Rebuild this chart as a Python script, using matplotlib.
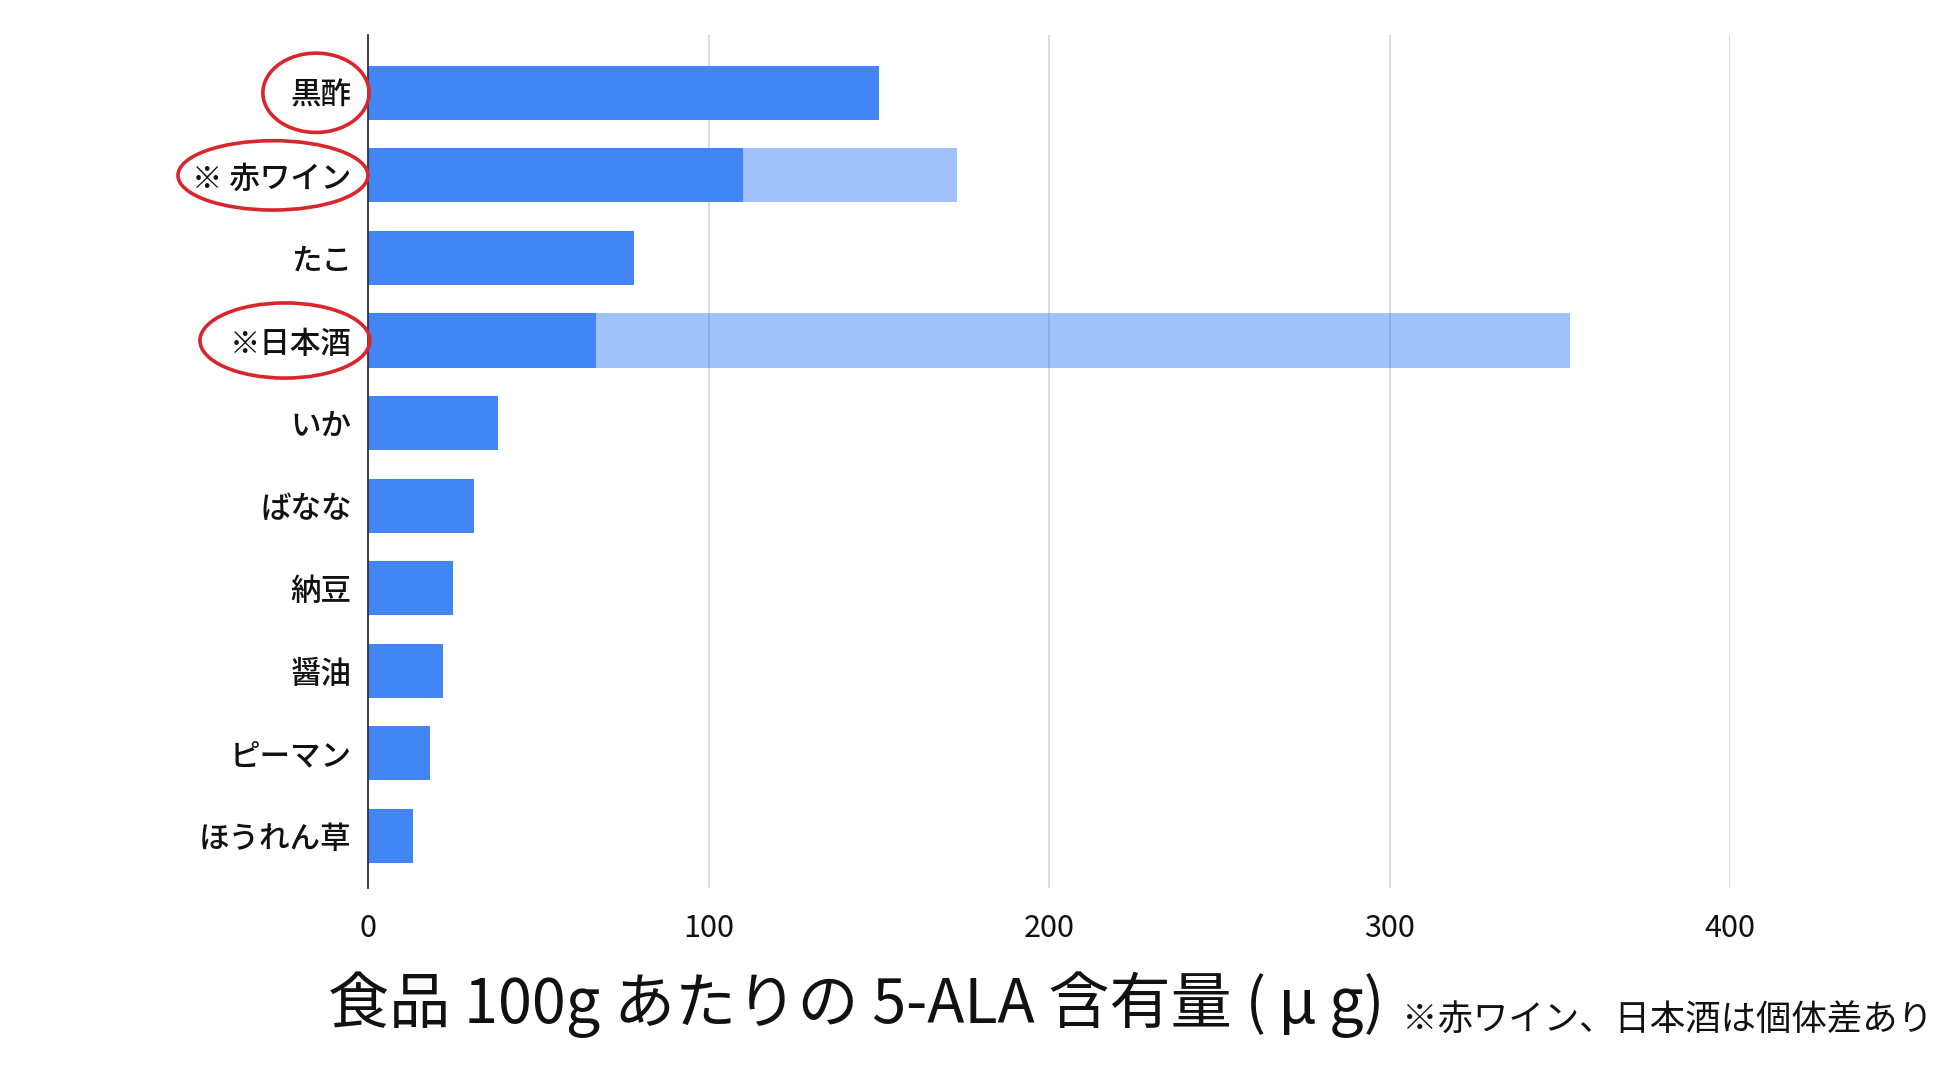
import matplotlib
matplotlib.use("Agg")
import matplotlib.pyplot as plt
import matplotlib.transforms as mtransforms
from matplotlib.patches import Ellipse
import numpy as np

plt.rcParams['font.family'] = ['Noto Sans CJK JP', 'DejaVu Sans']

# data (µg per 100 g)
foods = ["黒酢", "※ 赤ワイン", "たこ", "※日本酒", "いか", "ばなな", "納豆", "醤油", "ピーマン", "ほうれん草"]
base_values = [150, 110, 78, 67, 38, 31, 25, 22, 18, 13]
upper_values = [150, 173, 78, 353, 38, 31, 25, 22, 18, 13]   # upper end of the range (wine, sake)
x_ticks = [0, 100, 200, 300, 400]
circled = ["黒酢", "※ 赤ワイン", "※日本酒"]

title = "食品 100g あたりの 5-ALA 含有量 (\u2009μ\u2009g)"
note = "※赤ワイン、日本酒は個体差あり"

blue = "#4285F4"

fig = plt.figure(figsize=(19.6, 10.8), dpi=100)
ax = fig.add_axes([0.1879, 0.1778, 0.6948, 0.7898])

y_pos = np.arange(len(foods))
bar_h = 0.655

# light range bars (semi transparent) then the solid base value on top
ax.barh(y_pos, upper_values, height=bar_h, color=blue, alpha=0.5, zorder=2, linewidth=0)
ax.barh(y_pos, base_values, height=bar_h, color=blue, zorder=3, linewidth=0)

ax.set_xlim(0, 400)
ax.set_ylim(9.63, -0.70)
ax.set_xticks(x_ticks)
ax.set_xticklabels([str(t) for t in x_ticks])
ax.set_yticks(y_pos)
ax.set_yticklabels(foods, fontweight='medium')

ax.tick_params(axis='x', length=0, pad=18, labelsize=22, colors='#111111')
ax.tick_params(axis='y', length=0, pad=12, labelsize=22, colors='#111111')

ax.grid(axis='x', color='#d6d6d6', linewidth=1.2, zorder=1)
ax.set_axisbelow(True)
for s in ['top', 'right', 'bottom']:
    ax.spines[s].set_visible(False)
ax.spines['left'].set_color('#333333')
ax.spines['left'].set_linewidth(1.3)
ax.spines['left'].set_zorder(4)

# red circles around the highlighted labels
trans = mtransforms.blended_transform_factory(ax.transAxes, ax.transData)
ell_shape = {"黒酢": (-0.0384, 0.078, 0.96),
             "※ 赤ワイン": (-0.070, 0.1395, 0.84),
             "※日本酒": (-0.0612, 0.1248, 0.91)}
for name in circled:
    cx, w, h = ell_shape[name]
    e = Ellipse((cx, foods.index(name)), w, h, transform=trans, fill=False,
                edgecolor='#d9262c', linewidth=2.6, clip_on=False, zorder=5)
    ax.add_patch(e)

fig.text(0.1673, 0.0694, title, fontsize=44, ha='left', va='center', color='#111111')
fig.text(0.7153, 0.0546, note, fontsize=25.5, ha='left', va='center', color='#111111')

fig.savefig("out.png", dpi=100, facecolor='white')
